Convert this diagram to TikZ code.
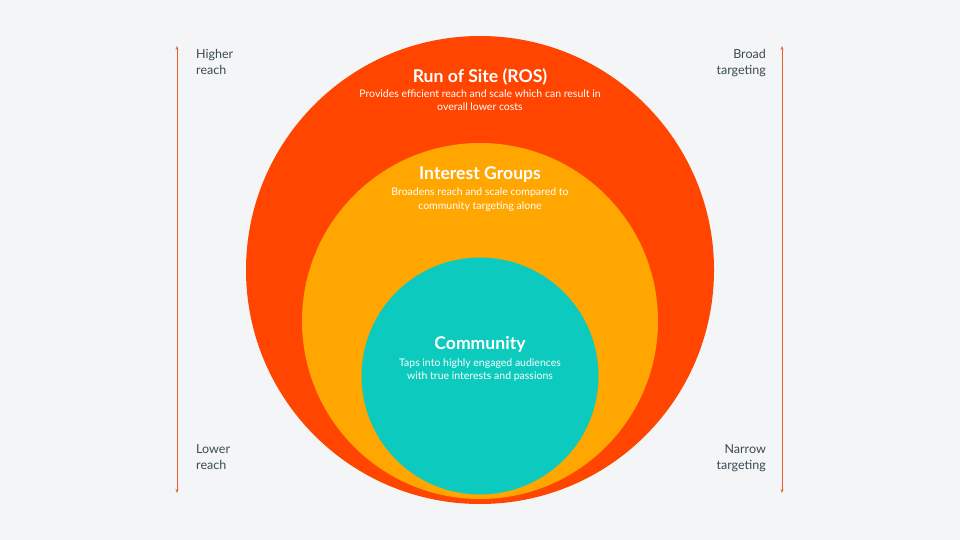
\documentclass[tikz,border=0pt]{standalone}
\usepackage{fontspec}
\setmainfont{Lato}
\usetikzlibrary{arrows.meta}
\definecolor{bg}{HTML}{F3F5F6}
\definecolor{rosred}{HTML}{FF4500}
\definecolor{intorange}{HTML}{FFA600}
\definecolor{commteal}{HTML}{0CCBBE}
\definecolor{labelgray}{HTML}{3A4A54}
\definecolor{arrowred}{HTML}{E8602C}
\begin{document}
\begin{tikzpicture}[x=1pt,y=-1pt,
  title/.style={text=white,font=\fontsize{17.6}{20}\selectfont\bfseries,inner sep=0pt},
  sub/.style={text=white,font=\fontsize{10.5}{13.2}\selectfont,align=center,inner sep=0pt},
  side/.style={text=labelgray,font=\fontsize{12.5}{16}\selectfont,inner sep=0pt},
  axis/.style={draw=arrowred,line width=0.9pt,{Stealth[length=4pt,width=3pt]}-{Stealth[length=4pt,width=3pt]}}]
\fill[bg] (0,0) rectangle (960,540);
\useasboundingbox (0,0) rectangle (960,540);
% circles
\node[circle,fill=rosred,minimum size=468pt,inner sep=0pt] (ros) at (480,270) {};
\node[circle,fill=intorange,minimum size=356pt,inner sep=0pt] (int) at (480,321) {};
\node[circle,fill=commteal,minimum size=237pt,inner sep=0pt] (comm) at (480,376) {};
% texts
\node[title] (rost) at (480,77) {Run of Site (ROS)};
\node[sub] (ross) at (480,100.5) {Provides efficient reach and scale which can result in\\overall lower costs};
\node[title] (intt) at (480,175) {Interest Groups};
\node[sub] (ints) at (480,199.5) {Broadens reach and scale compared to\\community targeting alone};
\node[title] (commt) at (480,344) {Community};
\node[sub] (comms) at (480,370) {Taps into highly engaged audiences\\with true interests and passions};
% side labels
\node[side,align=left,anchor=north west] (hr) at (196,49) {Higher\\reach};
\node[side,align=left,anchor=north west] (lr) at (196,444) {Lower\\reach};
\node[side,align=right,anchor=north east] (bt) at (766,49) {Broad\\targeting};
\node[side,align=right,anchor=north east] (nt) at (766,444) {Narrow\\targeting};
% axes
\coordinate (lt) at (177,46);
\coordinate (lb) at (177,493);
\coordinate (rt) at (782,46);
\coordinate (rb) at (782,493);
\draw[axis] (lt) -- (lb);
\draw[axis] (rt) -- (rb);
\end{tikzpicture}
\end{document}
